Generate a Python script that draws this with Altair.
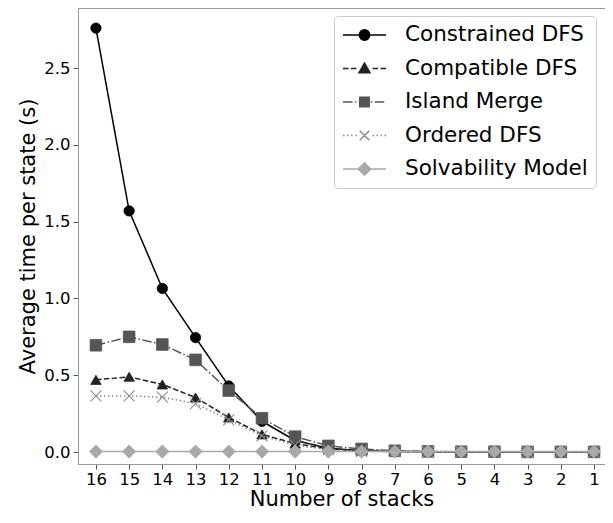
import math
import altair as alt
import pandas as pd

# ---- data ----
stacks = [16, 15, 14, 13, 12, 11, 10, 9, 8, 7, 6, 5, 4, 3, 2, 1]
series_names = ["Constrained DFS", "Compatible DFS", "Island Merge", "Ordered DFS", "Solvability Model"]
constrained_dfs = [2.76, 1.57, 1.065, 0.745, 0.43, 0.20, 0.075, 0.025, 0.008, 0.004, 0.002, 0.001, 0.001, 0.001, 0.001, 0.001]
compatible_dfs = [0.47, 0.49, 0.44, 0.355, 0.225, 0.115, 0.055, 0.02, 0.007, 0.003, 0.002, 0.001, 0.001, 0.001, 0.001, 0.001]
island_merge = [0.695, 0.75, 0.70, 0.60, 0.40, 0.22, 0.10, 0.04, 0.02, 0.008, 0.004, 0.002, 0.002, 0.001, 0.001, 0.001]
ordered_dfs = [0.365, 0.365, 0.357, 0.315, 0.21, 0.105, 0.045, 0.015, 0.005, 0.002, 0.001, 0.001, 0.001, 0.001, 0.001, 0.001]
solvability_model = [0.003, 0.003, 0.003, 0.003, 0.003, 0.003, 0.003, 0.003, 0.003, 0.003, 0.003, 0.003, 0.003, 0.003, 0.003, 0.003]
y_ticks = [0.0, 0.5, 1.0, 1.5, 2.0, 2.5]

# ---- styles ----
colors = ["#000000", "#222222", "#555555", "#8c8c8c", "#a9a9a9"]
dashes = [[1, 0], [5.5, 2.4], [9.6, 2.4, 1.5, 2.4], [1.5, 2.5], [1, 0]]
shapes = ["circle", "triangle-up", "square", "M-1,-1L1,1M-1,1L1,-1", "diamond"]
sizes = [107, 110, 135, 121, 175]


# legend glyphs: line sample + marker (marker solidified with dense strokes)
def hatch(halfwidth, y0, y1, step=0.12):
    parts = []
    y = y0
    while y <= y1 + 1e-9:
        hw = halfwidth(y)
        if hw > 0:
            parts.append(f"M{-hw:.3f},{y:.3f}H{hw:.3f}")
        y += step
    return "".join(parts)


r_c = 0.52
circle_glyph = (f"M-{r_c},0A{r_c},{r_c} 0 1,0 {r_c},0A{r_c},{r_c} 0 1,0 -{r_c},0Z"
                + hatch(lambda y: math.sqrt(max(r_c * r_c - y * y, 0)) - 0.03, -0.46, 0.46))
tri_glyph = ("M0,-0.55L0.55,0.42L-0.55,0.42Z"
             + hatch(lambda y: 0.55 * (y + 0.55) / 0.97 - 0.04, -0.45, 0.40))
sq_glyph = ("M-0.48,-0.48H0.48V0.48H-0.48Z"
            + hatch(lambda y: 0.46, -0.42, 0.42))
dia_glyph = ("M0,-0.62L0.62,0L0,0.62L-0.62,0Z"
             + hatch(lambda y: 0.6 - abs(y), -0.54, 0.54))
x_glyph = "M-0.48,-0.48L0.48,0.48M-0.48,0.48L0.48,-0.48"

legend_shapes = [
    "M-2.15,0H2.15" + circle_glyph,
    "M-2.15,0H-1.6M-1.36,0H-0.81M0.81,0H1.36M1.6,0H2.15" + tri_glyph,
    "M-2.15,0H-1.2M-0.96,0H-0.82M-0.58,0H0.4M0.64,0H0.78M1.02,0H1.98" + sq_glyph,
    "M-2.15,0H-2M-1.75,0H-1.6M-1.35,0H-1.2M-0.95,0H-0.8M0.8,0H0.95M1.2,0H1.35M1.6,0H1.75M2,0H2.15" + x_glyph,
    "M-2.15,0H2.15" + dia_glyph,
]

all_values = [constrained_dfs, compatible_dfs, island_merge, ordered_dfs, solvability_model]
rows = []
for name, vals in zip(series_names, all_values):
    for s, v in zip(stacks, vals):
        rows.append({"stacks": s, "time": v, "series": name})
df = pd.DataFrame(rows)

x_enc = alt.X(
    "stacks:Q",
    scale=alt.Scale(domain=[0.67, 16.54], reverse=True, nice=False, zero=False),
    axis=alt.Axis(values=stacks, format="d", title="Number of stacks", grid=False,
                  labelPadding=2, titlePadding=1),
)
y_enc = alt.Y(
    "time:Q",
    scale=alt.Scale(domain=[-0.078, 2.891], nice=False, zero=False),
    axis=alt.Axis(values=y_ticks, format=".1f", title="Average time per state (s)", grid=False,
                  labelPadding=3, titlePadding=5),
)

layers = []
for i, name in enumerate(series_names):
    base = alt.Chart(df).transform_filter(alt.datum.series == name)
    layers.append(
        base.mark_line(color=colors[i], strokeWidth=1.5, strokeDash=dashes[i]).encode(x=x_enc, y=y_enc)
    )
    if i == 3:
        pts = base.mark_point(shape=shapes[i], size=sizes[i], filled=False, color=colors[i],
                              strokeWidth=1.1, opacity=1)
    else:
        pts = base.mark_point(shape=shapes[i], size=sizes[i], filled=True, color=colors[i],
                              stroke=colors[i], strokeWidth=0.8, opacity=1)
    layers.append(pts.encode(x=x_enc, y=y_enc))

leg = dict(title=None, orient="none", legendX=256, legendY=8,
           fillColor="white", strokeColor="#cccccc", cornerRadius=4,
           padding=8, labelFontSize=21.5, labelColor="black",
           labelLimit=400, symbolSize=400, symbolStrokeWidth=1.5,
           symbolOffset=11.5, labelOffset=29.5, rowPadding=11.5)

legend_layer = alt.Chart(df).mark_point(opacity=0, strokeWidth=1.5).encode(
    x=x_enc,
    y=y_enc,
    color=alt.Color("series:N", scale=alt.Scale(domain=series_names, range=colors),
                    legend=alt.Legend(**leg)),
    shape=alt.Shape("series:N", scale=alt.Scale(domain=series_names, range=legend_shapes),
                    legend=alt.Legend(**leg)),
)

chart = alt.layer(*layers, legend_layer).properties(
    width=527, height=456,
    padding={"left": 9, "top": 0, "right": 0, "bottom": 0},
).configure(
    font="DejaVu Sans",
).configure_view(
    stroke="#999999", strokeWidth=1,
).configure_axis(
    domainColor="#999999", domainWidth=1, tickColor="#555555", tickSize=5, tickWidth=1,
    labelFontSize=16.5, labelColor="black", labelFont="DejaVu Sans",
    titleFontSize=21, titleColor="black", titleFont="DejaVu Sans", titleFontWeight="normal",
)

chart.save("out.html", embed_options={"renderer": "svg", "actions": False})
